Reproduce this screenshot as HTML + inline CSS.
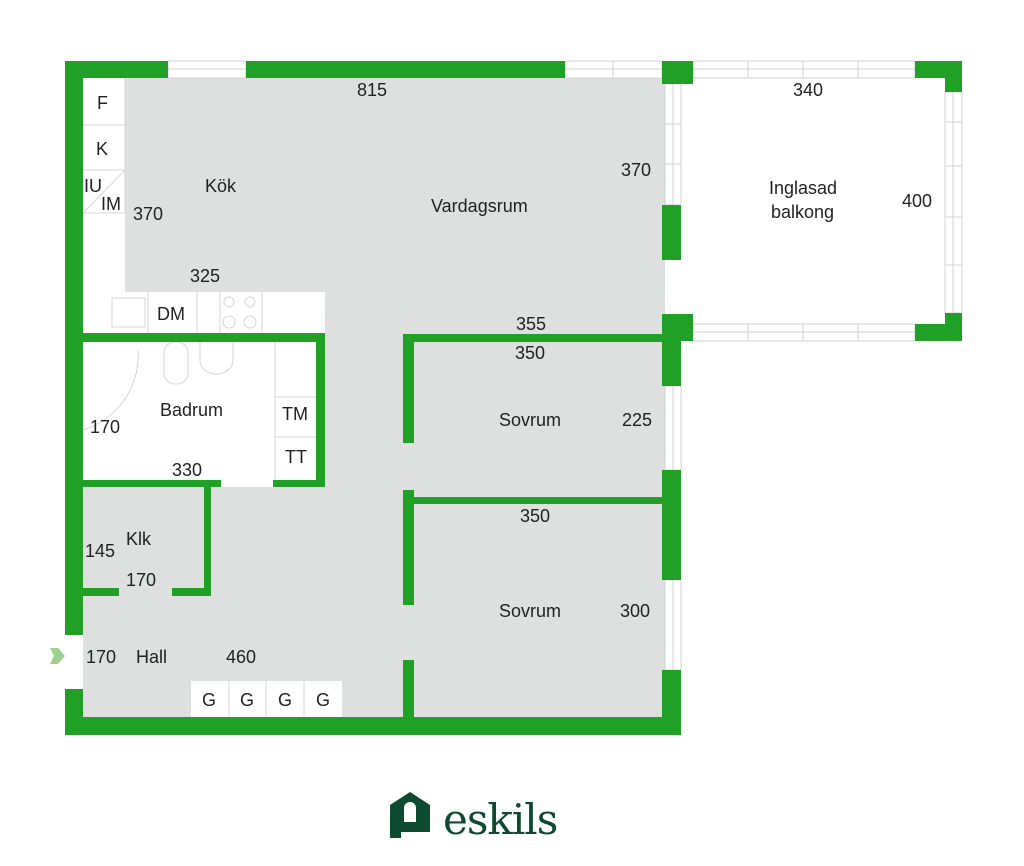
<!DOCTYPE html>
<html><head><meta charset="utf-8"><style>
html,body{margin:0;padding:0;background:#fff;}
svg{display:block;}
text{font-family:"Liberation Sans",sans-serif;font-size:18px;fill:#222;}
</style></head><body>
<svg width="1024" height="866" viewBox="0 0 1024 866" xmlns="http://www.w3.org/2000/svg">
<rect width="1024" height="866" fill="#fff"/>
<!-- grey floor -->
<rect x="83" y="78" width="582" height="640" fill="#dde0df"/>
<!-- kitchen white column & counter -->
<rect x="83" y="78" width="42" height="255" fill="#fff"/>
<rect x="83" y="292" width="242" height="41" fill="#fff"/>
<g stroke="#d4d6d5" stroke-width="1" fill="none">
<line x1="83" y1="125" x2="125" y2="125"/><line x1="83" y1="170" x2="125" y2="170"/><line x1="83" y1="213" x2="125" y2="213"/>
<line x1="83" y1="213" x2="125" y2="170"/>
<line x1="125" y1="78" x2="125" y2="213"/>
<line x1="148" y1="292" x2="148" y2="333"/><line x1="197" y1="292" x2="197" y2="333"/><line x1="220" y1="292" x2="220" y2="333"/><line x1="262" y1="292" x2="262" y2="333"/>
<rect x="112" y="298" width="33" height="29"/>
<circle cx="229" cy="302" r="5"/><circle cx="250" cy="302" r="5"/><circle cx="229" cy="322" r="6"/><circle cx="250" cy="322" r="6"/>
</g>
<!-- bathroom -->
<rect x="83" y="342" width="233" height="138" fill="#fff"/>
<rect x="211" y="480" width="62" height="7" fill="#fff"/>
<g stroke="#d4d6d5" stroke-width="1" fill="none">
<path d="M83 430 A78 78 0 0 0 138 350"/>
<rect x="164" y="342" width="24" height="42" rx="11"/>
<path d="M200 342 L200 360 A14 12 0 0 0 233 360 L233 342"/>
<line x1="275" y1="342" x2="275" y2="480"/><line x1="275" y1="397" x2="316" y2="397"/><line x1="275" y1="437" x2="316" y2="437"/>
</g>
<!-- balcony windows -->
<g fill="#fff" stroke="#d0d2d1" stroke-width="1">
<rect x="168" y="61" width="78" height="17"/><line x1="168" y1="69" x2="246" y2="69"/>
<rect x="565" y="61" width="97" height="17"/><line x1="565" y1="69" x2="662" y2="69"/><line x1="613" y1="61" x2="613" y2="78"/>
<rect x="693" y="61" width="222" height="17"/><line x1="693" y1="69" x2="915" y2="69"/>
<line x1="748" y1="61" x2="748" y2="78"/><line x1="803" y1="61" x2="803" y2="78"/><line x1="858" y1="61" x2="858" y2="78"/>
<rect x="693" y="324" width="222" height="17"/><line x1="693" y1="332" x2="915" y2="332"/>
<line x1="748" y1="324" x2="748" y2="341"/><line x1="803" y1="324" x2="803" y2="341"/><line x1="858" y1="324" x2="858" y2="341"/>
<rect x="945" y="92" width="17" height="221"/><line x1="953" y1="92" x2="953" y2="313"/>
<line x1="945" y1="122" x2="962" y2="122"/><line x1="945" y1="166" x2="962" y2="166"/><line x1="945" y1="217" x2="962" y2="217"/><line x1="945" y1="265" x2="962" y2="265"/>
<rect x="665" y="84" width="16" height="121"/><line x1="673" y1="84" x2="673" y2="205"/><line x1="665" y1="124" x2="681" y2="124"/><line x1="665" y1="164" x2="681" y2="164"/>
<rect x="665" y="386" width="16" height="84"/><line x1="673" y1="386" x2="673" y2="470"/>
<rect x="665" y="580" width="16" height="90"/><line x1="673" y1="580" x2="673" y2="670"/>
</g>
<!-- G cells -->
<rect x="191" y="681" width="151" height="36" fill="#fff"/>
<g stroke="#d4d6d5"><line x1="229" y1="681" x2="229" y2="717"/><line x1="266" y1="681" x2="266" y2="717"/><line x1="304" y1="681" x2="304" y2="717"/></g>
<!-- walls -->
<g fill="#21a027">
<rect x="65" y="61" width="103" height="17"/>
<rect x="246" y="61" width="319" height="17"/>
<rect x="662" y="61" width="31" height="23"/>
<rect x="665" y="61" width="16" height="23"/>
<rect x="915" y="61" width="47" height="17"/><rect x="945" y="61" width="17" height="31"/>
<rect x="662" y="205" width="19" height="55"/>
<rect x="662" y="314" width="19" height="72"/><rect x="662" y="314" width="31" height="27"/>
<rect x="915" y="324" width="47" height="17"/><rect x="945" y="313" width="17" height="28"/>
<rect x="662" y="470" width="19" height="110"/>
<rect x="662" y="670" width="19" height="65"/>
<rect x="65" y="717" width="616" height="18"/>
<rect x="65" y="61" width="18" height="574"/>
<rect x="65" y="689" width="18" height="46"/>
<rect x="65" y="333" width="260" height="9"/>
<rect x="316" y="333" width="9" height="153"/>
<rect x="83" y="480" width="138" height="7"/><rect x="273" y="480" width="52" height="7"/>
<rect x="204" y="480" width="7" height="116"/>
<rect x="83" y="588" width="36" height="8"/><rect x="172" y="588" width="39" height="8"/>
<rect x="403" y="334" width="11" height="109"/><rect x="403" y="334" width="262" height="8"/>
<rect x="403" y="490" width="11" height="115"/><rect x="403" y="497" width="262" height="7"/>
<rect x="403" y="660" width="11" height="57"/>
</g>
<!-- entrance arrow -->
<path d="M50 648 L58 648 L65 656 L58 664 L50 664 L54 656 Z" fill="#9fd08f"/>
<!-- labels -->
<text x="97" y="109">F</text><text x="96" y="155">K</text>
<text x="84" y="192">IU</text><text x="101" y="210">IM</text>
<text x="133" y="220">370</text><text x="205" y="192">Kök</text>
<text x="357" y="96">815</text><text x="190" y="282">325</text>
<text x="157" y="320">DM</text>
<text x="431" y="212">Vardagsrum</text><text x="621" y="176">370</text>
<text x="793" y="96">340</text>
<text x="769" y="194">Inglasad</text><text x="771" y="218">balkong</text><text x="902" y="207">400</text>
<text x="516" y="330">355</text><text x="515" y="359">350</text>
<text x="499" y="426">Sovrum</text><text x="622" y="426">225</text>
<text x="160" y="416">Badrum</text><text x="90" y="433">170</text>
<text x="282" y="420">TM</text><text x="285" y="463">TT</text>
<text x="172" y="476">330</text>
<text x="126" y="545">Klk</text><text x="85" y="557">145</text><text x="126" y="586">170</text>
<text x="520" y="522">350</text>
<text x="499" y="617">Sovrum</text><text x="620" y="617">300</text>
<text x="86" y="663">170</text><text x="136" y="663">Hall</text><text x="226" y="663">460</text>
<text x="202" y="706">G</text><text x="240" y="706">G</text><text x="278" y="706">G</text><text x="316" y="706">G</text>
<!-- logo -->
<path d="M390 805 L410 792 L430 805 L430 826 L401 826 L401 838 L390 838 Z" fill="#0d4a30"/>
<path d="M404 822 L404 808 A6 6 0 0 1 416 808 L416 822 Z" fill="#fff"/>
<rect x="401" y="826" width="29" height="6" fill="#0d4a30"/>
<text x="443" y="834" style="font-family:'DejaVu Serif','Liberation Serif',serif;font-size:42px;fill:#0d4a30;letter-spacing:-1px">eskils</text>
</svg>
</body></html>
